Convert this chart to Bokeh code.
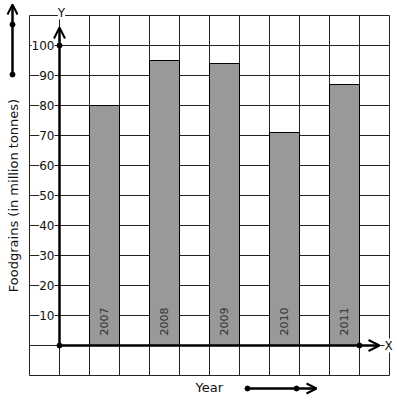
import math
from bokeh.plotting import figure
from bokeh.models import ColumnDataSource, LabelSet, Label, Arrow, OpenHead
from bokeh.core.properties import value
from bokeh.embed import file_html
from bokeh.resources import INLINE

# ---- data ----
years = ["2007", "2008", "2009", "2010", "2011"]
foodgrains = [80, 95, 94, 71, 87]
y_ticks = [10, 20, 30, 40, 50, 60, 70, 80, 90, 100]
y_tick_labels = ["10", "20", "30", "40", "50", "60", "70", "80", "90", "100"]

FONT = "DejaVu Sans"

# pixel helpers (layout pixel -> data)
def X(px):
    return (px - 59) / 30.0

def Y(py):
    return (345 - py) / 3.0

W, H = 397, 401
p = figure(width=W, height=H, output_backend="svg", toolbar_location=None,
           x_range=(X(0), X(W)), y_range=(Y(H), Y(0)), min_border=0)
p.axis.visible = False
p.xgrid.visible = False
p.ygrid.visible = False
p.outline_line_color = None
p.background_fill_color = "white"

# grid: 12 x 12 cells
gx = list(range(-1, 12))
gy = list(range(-10, 111, 10))
p.segment(x0=gx, y0=[-10] * len(gx), x1=gx, y1=[110] * len(gx), line_color="#222222", line_width=1)
p.segment(x0=[-1] * len(gy), y0=gy, x1=[11] * len(gy), y1=gy, line_color="#222222", line_width=1)

# bars
centers = [1.5 + 2 * i for i in range(len(years))]
src = ColumnDataSource(dict(x=centers, top=foodgrains, year=years))
p.vbar(x="x", top="top", bottom=0, width=1, source=src, fill_color="#999999", line_color="black", line_width=1)

# year labels inside bars (rotated)
src_lbl = ColumnDataSource(dict(x=centers, y=[3.3] * len(years), year=years))
p.add_layout(LabelSet(x="x", y="y", text="year", source=src_lbl, angle=math.pi / 2,
                      text_align="left", text_baseline="middle", text_font=value(FONT),
                      text_font_size=value("11px"), text_color="#333333"))

# axes with arrows
p.add_layout(Arrow(x_start=0, y_start=0, x_end=0, y_end=Y(27), line_width=2.5, line_color="black",
                   end=OpenHead(size=11, line_width=2, line_color="black")))
p.add_layout(Arrow(x_start=0, y_start=0, x_end=X(379), y_end=0, line_width=2.5, line_color="black",
                   end=OpenHead(size=11, line_width=2, line_color="black")))
p.scatter(x=[0, 0, 10], y=[0, 100, 0], size=5, color="black")

# y tick labels with white background
tsrc = ColumnDataSource(dict(x=[X(54)] * len(y_ticks), y=y_ticks, t=y_tick_labels))
p.add_layout(LabelSet(x="x", y="y", text="t", source=tsrc, text_align="right", text_baseline="middle",
                      text_font=value(FONT), text_font_size=value("12px"), text_color="#111111",
                      background_fill_color="white"))

p.add_layout(Label(x=X(61), y=Y(12), text="Y", text_align="center", text_baseline="middle",
                   text_font=FONT, text_font_size="12px", text_color="#111111",
                   background_fill_color="white"))
p.add_layout(Label(x=X(384), y=0, text="X", text_align="left", text_baseline="middle",
                   text_font=FONT, text_font_size="12px", text_color="#111111",
                   background_fill_color="white"))

# axis titles
p.add_layout(Label(x=X(13), y=Y(195), text="Foodgrains (in million tonnes)", angle=math.pi / 2,
                   text_align="center", text_baseline="middle", text_font=FONT,
                   text_font_size="13px", text_color="#111111"))
p.add_layout(Label(x=X(195), y=Y(387), text="Year", text_align="left", text_baseline="middle",
                   text_font=FONT, text_font_size="13px", text_color="#111111"))

# decorative arrows
p.add_layout(Arrow(x_start=X(12), y_start=Y(74), x_end=X(12), y_end=Y(4), line_width=2.5, line_color="black",
                   end=OpenHead(size=10, line_width=2, line_color="black")))
p.scatter(x=[X(12), X(12)], y=[Y(74), Y(24)], size=5, color="black")
p.add_layout(Arrow(x_start=X(247), y_start=Y(388), x_end=X(316), y_end=Y(388), line_width=2.5, line_color="black",
                   end=OpenHead(size=10, line_width=2, line_color="black")))
p.scatter(x=[X(247), X(296)], y=[Y(388), Y(388)], size=5, color="black")

open("out.html", "w").write(file_html(p, INLINE))
